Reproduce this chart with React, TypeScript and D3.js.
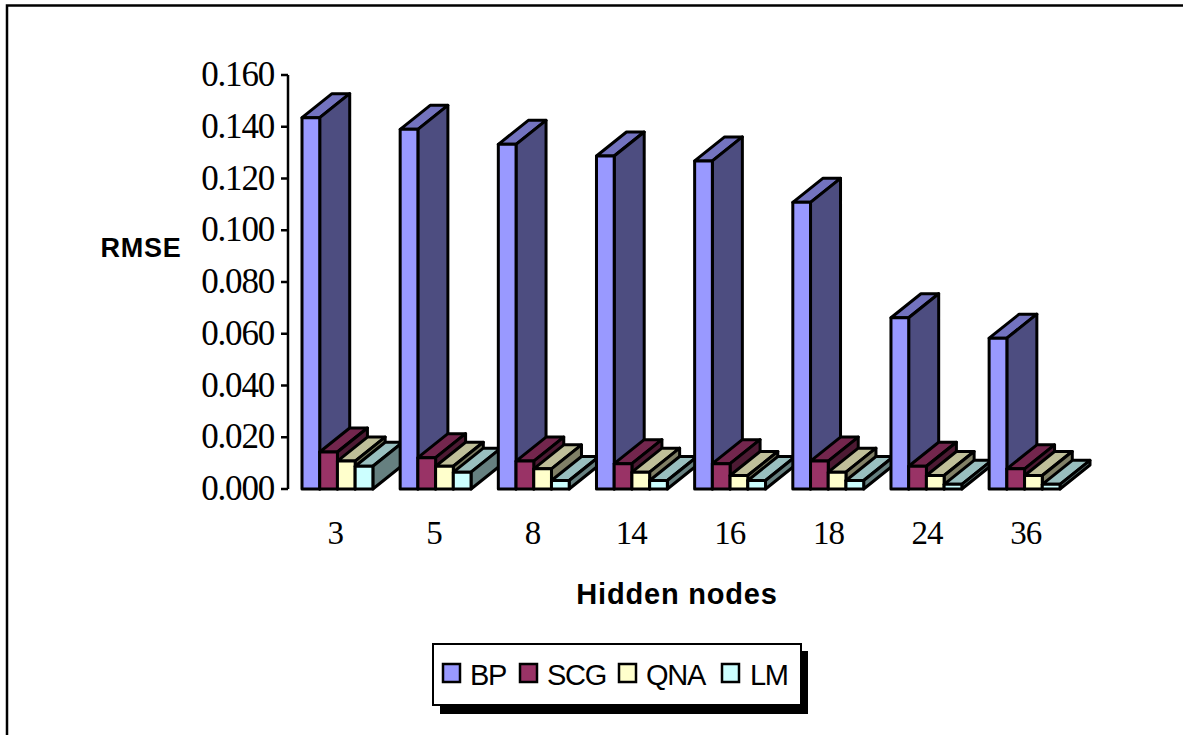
import React from "react";
import * as d3 from "d3";

const categories = ["3", "5", "8", "14", "16", "18", "24", "36"];
const seriesNames = ["BP", "SCG", "QNA", "LM"];
const bp = [0.1435, 0.139, 0.1332, 0.1287, 0.1268, 0.1108, 0.0662, 0.0583];
const scg = [0.0143, 0.0121, 0.0108, 0.0098, 0.0098, 0.0108, 0.0088, 0.0078];
const qna = [0.0108, 0.0088, 0.0078, 0.0065, 0.0052, 0.0065, 0.0052, 0.0052];
const lm = [0.0088, 0.0065, 0.0033, 0.0033, 0.0033, 0.0033, 0.0018, 0.0018];
const yTicks = [0, 0.02, 0.04, 0.06, 0.08, 0.1, 0.12, 0.14, 0.16];

const fronts = ["#9999FF", "#993366", "#FFFFCC", "#CCFFFF"];
const tops = ["#7373BF", "#73264D", "#BFBF99", "#99BFBF"];
const sides = ["#4D4D80", "#4D1A33", "#808066", "#668080"];

const serif = "'Liberation Serif', serif";
const sans = "'Liberation Sans', sans-serif";
const DX = 30;
const DY = 24;

export default function App() {
  const y = d3.scaleLinear().domain([0, 0.16]).range([489, 75]);
  const x0 = d3.scaleBand<string>().domain(categories).range([302, 1060]).paddingInner(0.278).paddingOuter(0);
  const x1 = d3.scaleBand<string>().domain(seriesNames).range([0, x0.bandwidth()]);
  const series = [bp, scg, qna, lm];
  const labelX = d3.scaleBand<string>().domain(categories).range([286, 1075]);
  const legendItems = [
    { swatch: 443, text: 470 },
    { swatch: 520, text: 547 },
    { swatch: 619, text: 646 },
    { swatch: 722, text: 750 },
  ];

  return (
    <svg
      width={1183}
      height={735}
      style={{ position: "absolute", left: 0, top: 0, background: "#fff" }}
    >
      <path d="M7,735V5.5H1183" fill="none" stroke="#000" strokeWidth={2.5} />

      <line x1={288} x2={288} y1={y(0.16)} y2={y(0)} stroke="#000" strokeWidth={2.5} />
      {yTicks.map((t) => (
        <g key={t}>
          <line x1={281} x2={288} y1={y(t)} y2={y(t)} stroke="#000" strokeWidth={2.5} />
          <text x={274} y={y(t) + 11} textAnchor="end" fontFamily={serif} fontSize={35} letterSpacing={-1.2}>
            {d3.format(".3f")(t)}
          </text>
        </g>
      ))}

      {categories.map((c, i) =>
        seriesNames.map((s, j) => {
          const left = x0(c)! + x1(s)!;
          const right = left + x1.bandwidth();
          const t = y(series[j][i]);
          const b = y(0);
          return (
            <g key={c + s} stroke="#000" strokeWidth={3} strokeLinejoin="round">
              <path d={`M${left},${t}L${right},${t}L${right + DX},${t - DY}L${left + DX},${t - DY}Z`} fill={tops[j]} />
              <path d={`M${right},${t}L${right + DX},${t - DY}L${right + DX},${b - DY}L${right},${b}Z`} fill={sides[j]} />
              <rect x={left} y={t} width={right - left} height={b - t} fill={fronts[j]} />
            </g>
          );
        })
      )}

      {categories.map((c) => (
        <text
          key={c}
          x={labelX(c)! + labelX.bandwidth() / 2}
          y={544}
          textAnchor="middle"
          fontFamily={serif}
          fontSize={33}
          letterSpacing={-1}
        >
          {c}
        </text>
      ))}

      <text x={141} y={257} textAnchor="middle" fontFamily={sans} fontWeight={700} fontSize={27} letterSpacing={0.8}>
        RMSE
      </text>
      <text x={677} y={604} textAnchor="middle" fontFamily={sans} fontWeight={700} fontSize={29} letterSpacing={0.8}>
        Hidden nodes
      </text>

      <rect x={440} y={651} width={368} height={63} fill="#000" />
      <rect x={433} y={644} width={368} height={61} fill="#fff" stroke="#000" strokeWidth={2} />
      {seriesNames.map((s, j) => (
        <g key={s}>
          <rect
            x={legendItems[j].swatch}
            y={664}
            width={17}
            height={18}
            fill={fronts[j]}
            stroke="#000"
            strokeWidth={2.5}
          />
          <text x={legendItems[j].text} y={685} fontFamily={sans} fontSize={29} letterSpacing={-1.3}>
            {s}
          </text>
        </g>
      ))}
    </svg>
  );
}
